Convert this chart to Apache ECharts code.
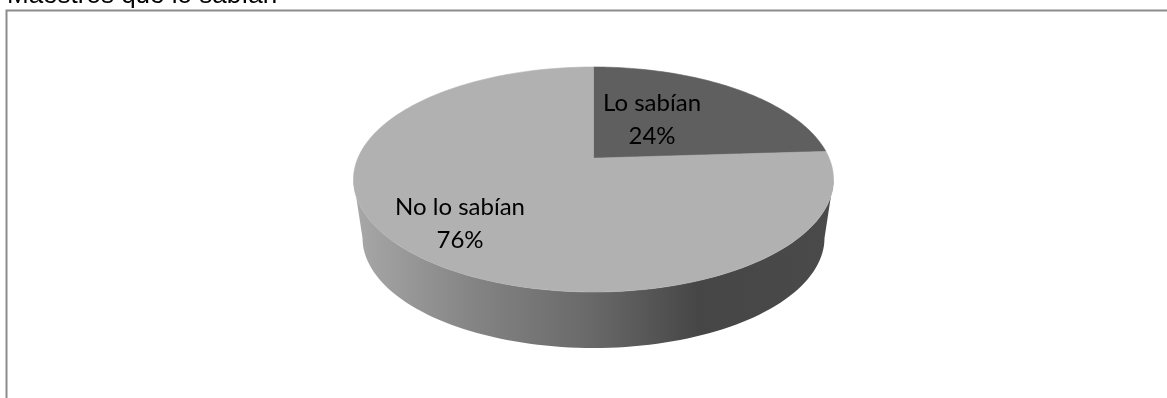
<!DOCTYPE html>
<html>
<head>
<meta charset="utf-8">
<style>html,body{margin:0;padding:0;background:#fff;overflow:hidden}#c{width:1167px;height:398px}</style>
<script src="https://cdn.jsdelivr.net/npm/echarts@6/dist/echarts.min.js"></script>
</head>
<body>
<div id="c"></div>
<script>
const titleText = 'Maestros que lo sabían';
const categories = ['Lo sabían', 'No lo sabían'];
const percentValues = [24, 76];
const sliceColors = ['#5f5f5f', '#b1b1b1'];

// Layout of the tilted disc
const CX = 593.5, CY = 179.5, RX = 240, RY = 112.5, TILT = 0.19;
const LOWER = { cy: 238, rx: 231, ry: 110 };
const LABEL_POS = [[652, 120], [460, 224]];
const total = percentValues.reduce((a, b) => a + b, 0);

// Map a point of the flat pie (angle clockwise from the top, radius 0..1) to the perspective disc
function project(deg, r) {
  const a = deg * Math.PI / 180, u = r * Math.sin(a), v = r * Math.cos(a);
  const d = 1 + TILT * v;
  return [CX + RX * u * Math.sqrt(1 - TILT * TILT) / d, CY - RY * (v + TILT) / d];
}
function sidePoints() {
  const pts = [];
  for (let i = 0; i <= 90; i++) {
    const a = Math.PI * i / 90;
    pts.push([CX - RX * Math.cos(a), CY + RY * Math.sin(a)]);
  }
  for (let i = 90; i >= 0; i--) {
    const a = Math.PI * i / 90;
    pts.push([CX - LOWER.rx * Math.cos(a), LOWER.cy + LOWER.ry * Math.sin(a)]);
  }
  return pts;
}
function renderSlice(params, api) {
  const idx = params.dataIndex;
  let before = 0;
  for (let i = 0; i < idx; i++) before += percentValues[i];
  const start = before / total * 360, end = (before + api.value(0)) / total * 360;
  const pts = [project(0, 0)];
  const n = Math.max(4, Math.ceil(end - start));
  for (let i = 0; i <= n; i++) pts.push(project(start + (end - start) * i / n, 1));
  return { type: 'polygon', shape: { points: pts }, style: { fill: sliceColors[idx], stroke: sliceColors[idx], lineWidth: 0.6 } };
}
function renderSide() {
  return {
    type: 'polygon', shape: { points: sidePoints() },
    style: {
      fill: new echarts.graphic.LinearGradient(0, 0, 1, 0, [
        { offset: 0, color: '#a8a8a8' }, { offset: 0.25, color: '#848484' },
        { offset: 0.5, color: '#686868' }, { offset: 0.72, color: '#464646' },
        { offset: 1, color: '#4a4a4a' }
      ])
    }
  };
}
function renderLabel(params, api) {
  const idx = params.dataIndex;
  return {
    type: 'text', z2: 10,
    style: {
      text: categories[idx] + '\n' + api.value(0) + '%',
      x: LABEL_POS[idx][0], y: LABEL_POS[idx][1],
      align: 'center', verticalAlign: 'middle',
      font: '24px Lato', lineHeight: 33, fill: '#000'
    }
  };
}
const chart = echarts.init(document.getElementById('c'), null, { renderer: 'canvas' });
chart.setOption({
  animation: false,
  backgroundColor: '#fff',
  title: { text: titleText, left: 7, top: -17, padding: 0, textStyle: { fontFamily: 'Liberation Sans', fontSize: 26, fontWeight: 'normal', color: '#000' } },
  graphic: [{ type: 'rect', silent: true, shape: { x: 6.5, y: 10.5, width: 1300, height: 600 }, style: { fill: 'none', stroke: '#8c8c8c', lineWidth: 2 } }],
  series: [
    { type: 'custom', coordinateSystem: 'none', silent: true, clip: false, data: [[0]], renderItem: renderSide, z: 1 },
    { type: 'custom', coordinateSystem: 'none', silent: true, clip: false, data: percentValues.map(v => [v]), renderItem: renderSlice, z: 2 },
    { type: 'custom', coordinateSystem: 'none', silent: true, clip: false, data: percentValues.map(v => [v]), renderItem: renderLabel, z: 3 }
  ]
});
</script>
</body>
</html>
